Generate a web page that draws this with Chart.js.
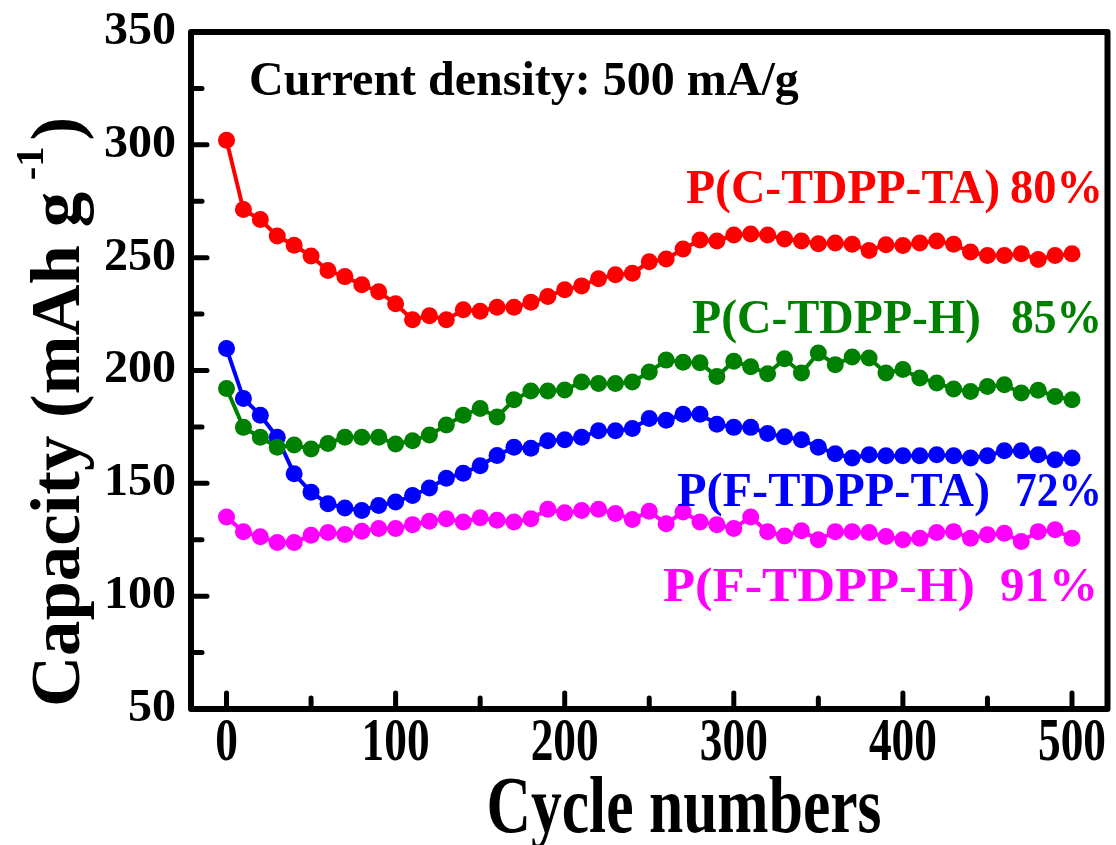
<!DOCTYPE html>
<html><head><meta charset="utf-8">
<script src="https://cdn.jsdelivr.net/npm/chart.js@4/dist/chart.umd.min.js"></script>
<style>html,body{margin:0;padding:0;background:#fff}canvas{display:block}</style>
</head><body>
<canvas id="c" width="1116" height="845"></canvas>
<script>
const cycles = [0,10,20,30,40,50,60,70,80,90,100,110,120,130,140,150,160,170,180,190,200,210,220,230,240,250,260,270,280,290,300,310,320,330,340,350,360,370,380,390,400,410,420,430,440,450,460,470,480,490,500];
const pCTDPPTA = [302,271.3,266.9,259.6,255.5,250.7,244.3,241.6,238,234.9,229.6,222.5,224.3,222.5,226.9,226.3,228,228,230.2,232.8,235.8,237.5,240.7,242.4,243.1,248.2,249.4,253.8,257.8,257.4,260,260.5,260,258.3,257.4,256.2,256.5,255.9,253.2,255.7,255.4,256.5,257.4,255.9,252.5,251,251,251.7,249.2,251,251.7];
const pCTDPPH = [192,174.8,170.4,166,167,165.2,167.7,170.4,170.4,170.4,167.4,168.9,171.4,175.8,180.2,183.2,179.4,187,190.9,190.9,191.4,194.9,194.2,194.2,194.9,199.3,204.6,203.7,203.4,197.3,204.1,201.7,198.6,205.2,198.9,207.8,202.6,206,205.5,198.9,200.4,196.7,194.5,191.8,190.7,192.9,193.7,190,191.2,188.5,187];
const pFTDPPTA = [209.7,187.6,180.2,170.4,154.2,146.1,141,139.1,138,140.2,141.7,144.6,147.9,152.3,154.5,157.8,162.3,166,165.5,168.9,169.3,170.4,173.3,173.3,174.3,178.7,178,180.6,180.6,176.2,174.8,174.8,172.1,170.6,169.3,166,163.1,161.2,162.7,162.2,162.2,162.2,162.7,162.2,161.2,162.2,164.4,164.4,162.7,160.4,161.2];
const pFTDPPH = [135.1,128.5,126.3,123.8,123.8,127,128.2,127.3,128.8,130,130,131.7,133.2,134.3,132.9,134.7,133.6,132.9,134.3,138.5,137,138,138.5,136.6,134,137.6,132.1,137.3,132.9,131.7,130,135.1,128.5,126.7,129,125,128.6,128.6,128.2,126.4,125,125.7,128.2,128.6,125.7,127.2,127.9,124.2,128.6,129.4,125.7];
const seriesNames = ['P(C-TDPP-TA)','P(C-TDPP-H)','P(F-TDPP-TA)','P(F-TDPP-H)'];
const retention = ['80%','85%','72%','91%'];
const xTickValues = [0,100,200,300,400,500];
const xTickLabels = ['0','100','200','300','400','500'];
const xMinorTicks = [50,150,250,350,450];
const yTickValues = [50,100,150,200,250,300,350];
const yTickLabels = ['50','100','150','200','250','300','350'];
const yMinorTicks = [75,125,175,225,275,325];
const xTitle = 'Cycle numbers';
const yTitle = 'Capacity (mAh g';
const yTitleSup = '-1';
const noteText = 'Current density: 500 mA/g';

const colors = ['#ff0000','#008000','#0000ff','#ff00ff'];
const SERIF = '"Liberation Serif", "Times New Roman", serif';

function mk(vals){ return cycles.map((c,i)=>({x:c,y:vals[i]})); }
function ds(label, vals, color){
  return {label, data: mk(vals), borderColor: color, backgroundColor: color,
    borderWidth: 4, pointRadius: 8.5, pointHoverRadius: 8.5, pointBorderWidth: 0, tension: 0};
}

function fitText(ctx, text, x, y, size, opts){
  opts = opts || {};
  ctx.save();
  ctx.font = 'bold ' + size + 'px ' + SERIF;
  ctx.fillStyle = opts.color || '#000';
  ctx.textBaseline = opts.baseline || 'alphabetic';
  const w = ctx.measureText(text).width;
  let sx = opts.sx || 1;
  if (opts.width) sx = opts.width / w;
  ctx.translate(x, y);
  ctx.scale(sx, 1);
  let ox = 0;
  if (opts.align === 'center') ox = -w/2;
  else if (opts.align === 'right') ox = -w;
  ctx.textAlign = 'left';
  ctx.fillText(text, ox, 0);
  ctx.restore();
  return w*sx;
}

const decor = {
  id: 'decor',
  afterDraw(chart){
    const ctx = chart.ctx, a = chart.chartArea;
    const xs = chart.scales.x, ys = chart.scales.y;
    ctx.save();
    ctx.strokeStyle = '#000';
    ctx.lineCap = 'round';
    ctx.lineWidth = 5;
    const inB = a.bottom - 3, inL = a.left + 3;
    xTickValues.forEach(v=>{ const p = xs.getPixelForValue(v); ctx.beginPath(); ctx.moveTo(p, inB); ctx.lineTo(p, inB-13); ctx.stroke(); });
    xMinorTicks.forEach(v=>{ const p = xs.getPixelForValue(v); ctx.beginPath(); ctx.moveTo(p, inB); ctx.lineTo(p, inB-8); ctx.stroke(); });
    yTickValues.forEach(v=>{ const p = ys.getPixelForValue(v); if (p < a.top+4 || p > a.bottom-4) return; ctx.beginPath(); ctx.moveTo(inL, p); ctx.lineTo(inL+13, p); ctx.stroke(); });
    yMinorTicks.forEach(v=>{ const p = ys.getPixelForValue(v); ctx.beginPath(); ctx.moveTo(inL, p); ctx.lineTo(inL+8, p); ctx.stroke(); });
    ctx.lineCap = 'butt';
    ctx.lineJoin = 'round';
    ctx.lineWidth = 6;
    ctx.strokeRect(a.left, a.top, a.right - a.left, a.bottom - a.top);
    ctx.restore();

    ctx.save();
    ctx.font = 'bold 62px ' + SERIF;
    const sxX = 68 / ctx.measureText('100').width;
    xTickValues.forEach((v,i)=>{
      fitText(ctx, xTickLabels[i], xs.getPixelForValue(v), 744, 62, {align:'center', baseline:'middle', sx:sxX});
    });
    ctx.font = 'bold 46px ' + SERIF;
    const sxY = 72 / ctx.measureText('350').width;
    yTickValues.forEach((v,i)=>{
      fitText(ctx, yTickLabels[i], 176, ys.getPixelForValue(v), 46, {align:'right', baseline:'middle', sx:sxY});
    });
    ctx.restore();

    fitText(ctx, xTitle, 684, 832, 80, {align:'center', width:395});
    ctx.save();
    ctx.translate(79, 707);
    ctx.rotate(-Math.PI/2);
    ctx.font = 'bold 70px ' + SERIF;
    ctx.fillStyle = '#000';
    ctx.textBaseline = 'alphabetic';
    const w1 = ctx.measureText(yTitle + ' ').width;
    ctx.font = 'bold 40px ' + SERIF;
    const w2 = ctx.measureText(yTitleSup).width;
    ctx.font = 'bold 70px ' + SERIF;
    const w3 = ctx.measureText(')').width;
    const s = 590 / (w1 + w2 + w3);
    ctx.scale(s, 1);
    ctx.fillText(yTitle, 0, 0);
    ctx.font = 'bold 40px ' + SERIF;
    ctx.fillText(yTitleSup, w1 - 6, -36);
    ctx.font = 'bold 70px ' + SERIF;
    ctx.fillText(')', w1 + w2, 0);
    ctx.restore();

    fitText(ctx, noteText, 249, 95, 48, {});
    const lab = [
      {x:686, y:203, w:314, px:1010, pw:93},
      {x:692, y:333, w:289, px:1011, pw:91},
      {x:677, y:506, w:313, px:1015, pw:87},
      {x:663, y:601, w:312, px:1000, pw:98}
    ];
    lab.forEach((l,i)=>{
      fitText(ctx, seriesNames[i], l.x, l.y, 48, {color: colors[i], width: l.w});
      fitText(ctx, retention[i], l.px, l.y, 48, {color: colors[i], width: l.pw});
    });
  }
};

new Chart(document.getElementById('c'), {
  type: 'line',
  data: { datasets: [
    ds(seriesNames[0], pCTDPPTA, colors[0]),
    ds(seriesNames[1], pCTDPPH, colors[1]),
    ds(seriesNames[2], pFTDPPTA, colors[2]),
    ds(seriesNames[3], pFTDPPH, colors[3])
  ]},
  options: {
    responsive: false, animation: false, devicePixelRatio: 1,
    layout: { padding: { top: 32, right: 5, left: 0, bottom: 0 } },
    plugins: { legend: {display:false}, tooltip: {enabled:false} },
    scales: {
      x: { type:'linear', min:-21, max:521,
        grid:{display:false, drawTicks:false}, border:{display:false},
        ticks:{display:false}, afterFit(s){ s.height = 136; } },
      y: { type:'linear', min:50, max:350,
        grid:{display:false, drawTicks:false}, border:{display:false},
        ticks:{display:false}, afterFit(s){ s.width = 191; } }
    }
  },
  plugins: [decor]
});
</script>
</body></html>
